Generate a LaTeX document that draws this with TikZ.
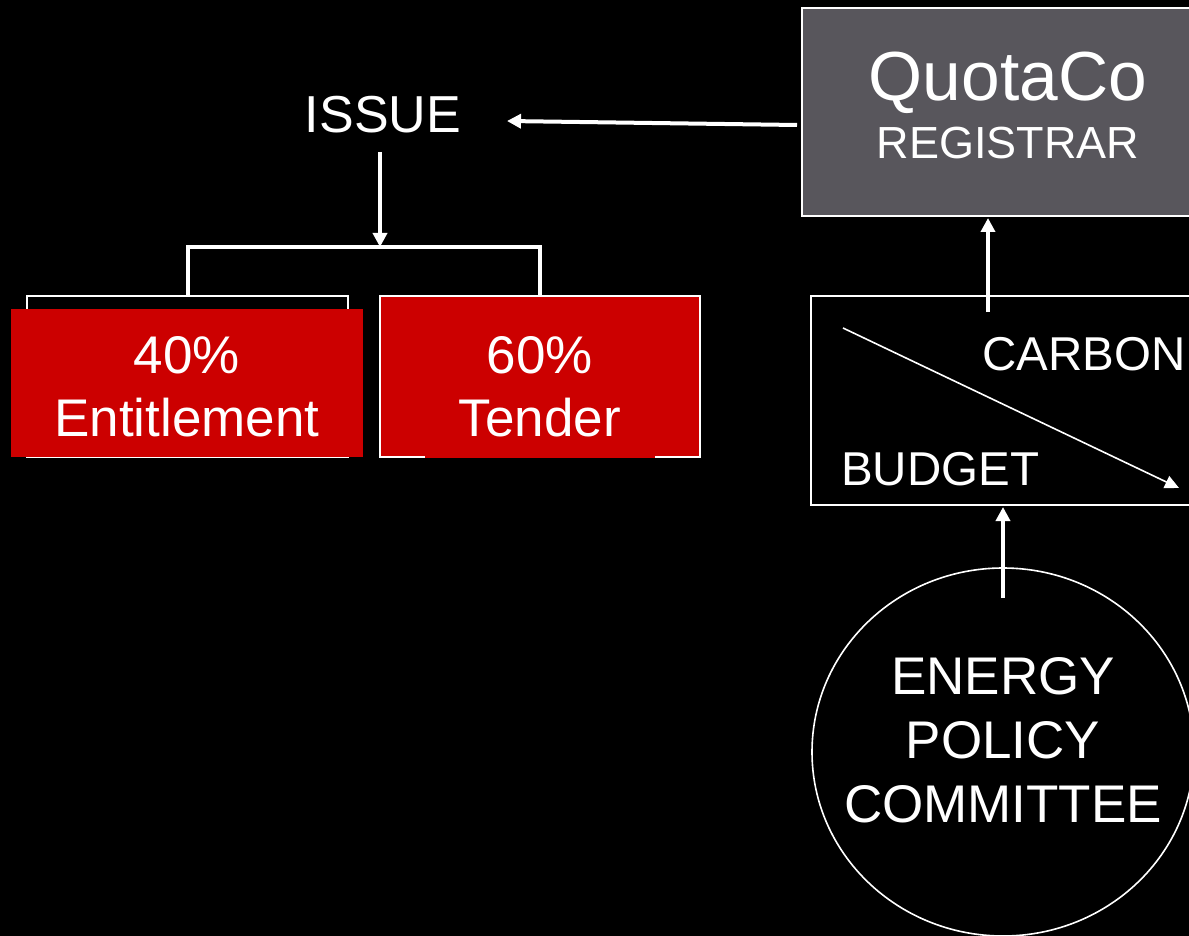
\documentclass[tikz,border=0pt]{standalone}
\usepackage{fontspec}
\setmainfont{Liberation Sans}
\usetikzlibrary{arrows.meta,shapes.geometric}
\definecolor{qgray}{HTML}{58565C}
\definecolor{qred}{HTML}{CC0000}
\begin{document}
\begin{tikzpicture}[x=1pt,y=-1pt,
  lbl/.style={text=white,inner sep=0pt,anchor=base},
  big/.style={font=\fontsize{53}{60}\selectfont},
  thickarrow/.style={draw=white,line width=4pt,-{Triangle[length=14pt,width=14pt]}},
  boxline/.style={draw=white,line width=1.6pt},
  plainbox/.style={inner sep=0pt,outer sep=0pt},
]
\fill[black] (0,0) rectangle (1189,936);
\useasboundingbox (0,0) rectangle (1189,936);
\clip (0,0) rectangle (1189,936);

% QuotaCo registrar
\node[plainbox,boxline,fill=qgray,minimum width=398pt,minimum height=208pt] (quota) at (1001,112) {};
\node[lbl,font=\fontsize{69.5}{69.5}\selectfont] (quotaname) at (1008,101) {QuotaCo};
\node[lbl,font=\fontsize{45}{45}\selectfont] (registrar) at (1008,159) {REGISTRAR};

% ISSUE
\node[lbl,font=\fontsize{52}{60}\selectfont] (issue) at (383,133) {ISSUE};
\coordinate (qa) at (797,125);
\coordinate (ia) at (507,121);
\draw[thickarrow] (qa) -- (ia);
\coordinate (issuebot) at (380,152);
\coordinate (bracktop) at (380,247);
\draw[thickarrow] (issuebot) -- (bracktop);

% Entitlement box
\node[plainbox,boxline,minimum width=321pt,minimum height=161pt] (entout) at (187.5,376.5) {};
\node[plainbox,fill=qred,minimum width=352pt,minimum height=148pt] (ent) at (187,383) {};
\node[lbl,big] (entpct) at (187,373) {40\%};
\node[lbl,big] (entname) at (187,436) {Entitlement};

% Tender box
\node[plainbox,boxline,fill=qred,minimum width=320pt,minimum height=161pt] (tend) at (540,376.5) {};
\draw[qred,line width=2.2pt] (425,457) -- (655,457);
\node[lbl,big] (tendpct) at (540,373) {60\%};
\node[lbl,big] (tendname) at (540,436) {Tender};

% bracket
\draw[white,line width=4pt,line join=miter] (entout.north) -- (entout.north |- bracktop) -- (tend.north |- bracktop) -- (tend.north);

% Carbon budget box
\node[plainbox,boxline,minimum width=389pt,minimum height=209pt] (budget) at (1005.5,400.5) {};
\node[lbl,anchor=base west,font=\fontsize{47.5}{47.5}\selectfont] (carbon) at (982,370) {CARBON};
\node[lbl,anchor=base west,font=\fontsize{47.5}{47.5}\selectfont] (budgettxt) at (841,485) {BUDGET};
\coordinate (dstart) at (843,328);
\coordinate (dend) at (1179,488);
\draw[white,line width=1.6pt,-{Triangle[length=14pt,width=13pt]}] (dstart) -- (dend);

\coordinate (ca) at (988,312);
\coordinate (cb) at (988,218);
\draw[thickarrow] (ca) -- (cb);

% Committee
\node[plainbox,ellipse,boxline,minimum width=382pt,minimum height=368pt] (committee) at (1003,752) {};
\node[lbl,big] (l1) at (1003,694) {ENERGY};
\node[lbl,big] (l2) at (1003,758) {POLICY};
\node[lbl,big] (l3) at (1003,822) {COMMITTEE};
\coordinate (ea) at (1003,598);
\coordinate (eb) at (1003,507);
\draw[thickarrow] (ea) -- (eb);
\end{tikzpicture}
\end{document}
